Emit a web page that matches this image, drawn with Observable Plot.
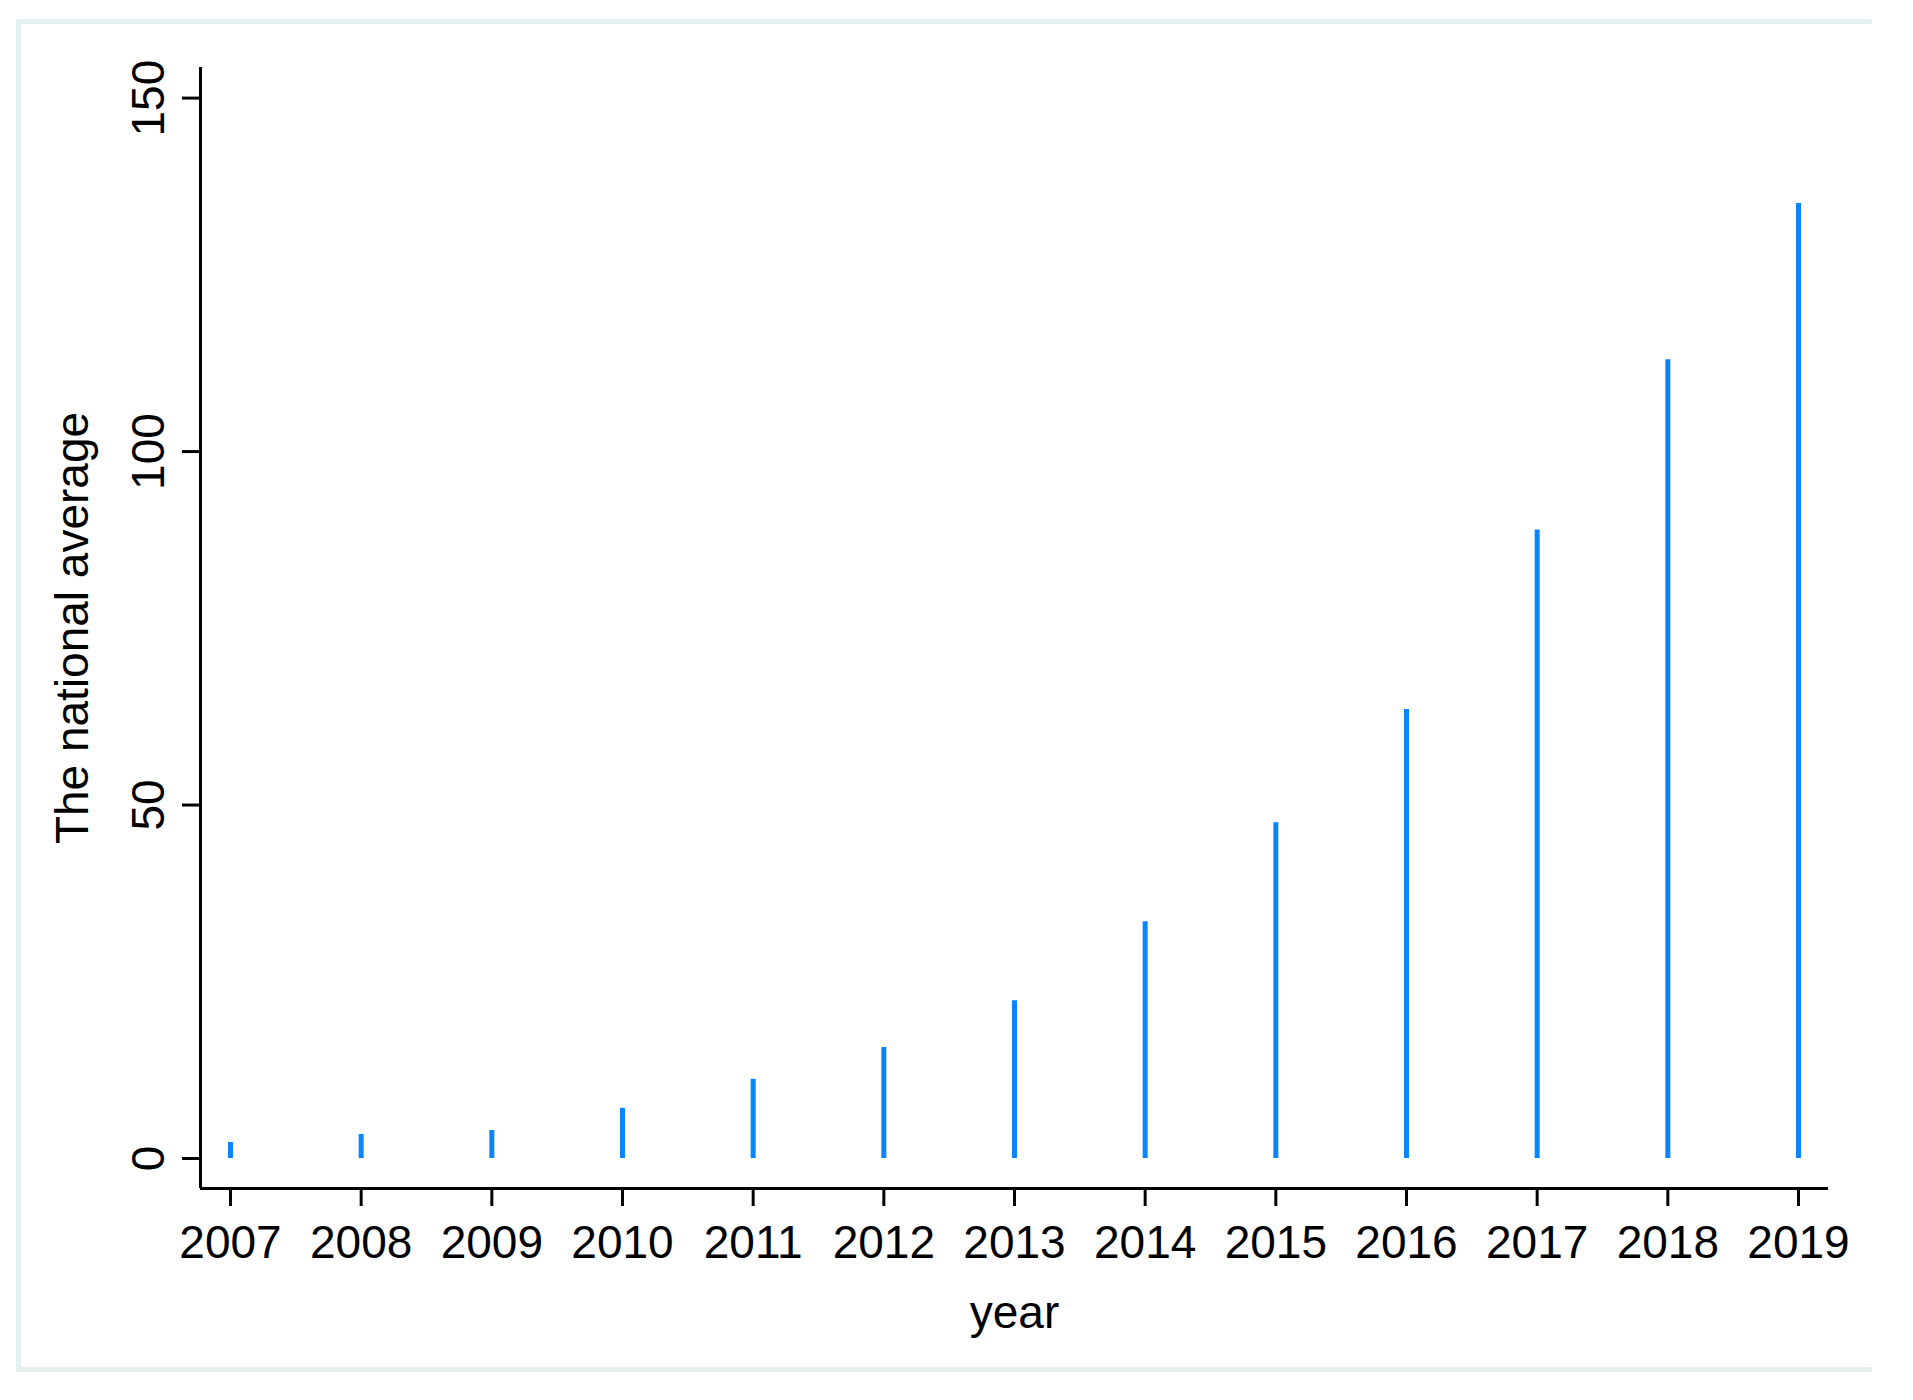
<!DOCTYPE html>
<html>
<head>
<meta charset="utf-8">
<script src="https://cdn.jsdelivr.net/npm/d3@7"></script>
<script src="https://cdn.jsdelivr.net/npm/@observablehq/plot@0.6"></script>
<style>
  html, body { margin: 0; padding: 0; background: #ffffff; }
  #wrap { position: relative; width: 1913px; height: 1400px; background: #ffffff; }
  #border {
    position: absolute; left: 16px; top: 19px; width: 1856px; height: 1353px;
    box-sizing: border-box;
    border-top: 5px solid #e4eff0; border-left: 5px solid #e4eff0; border-bottom: 5px solid #e4eff0;
    pointer-events: none;
  }
  #chart { position: absolute; left: 0; top: 0; }
</style>
</head>
<body>
<div id="wrap"><div id="border"></div><div id="chart"></div></div>
<script>
const years = [2007, 2008, 2009, 2010, 2011, 2012, 2013, 2014, 2015, 2016, 2017, 2018, 2019];
const values = [2.26, 3.4, 3.96, 7.1, 11.2, 15.7, 22.3, 33.5, 47.5, 63.5, 88.9, 113.0, 135.1];
const yTicks = [0, 50, 100, 150];
const xLabel = "year";
const yLabel = "The national average";

const data = years.map((year, i) => ({year, value: values[i]}));
const xDomain = [2006.7704, 2019.2296];
const yDomain = [-4.2437, 154.329];
const font = "'Liberation Sans', Arial, sans-serif";

const chart = Plot.plot({
  width: 1913,
  height: 1400,
  marginLeft: 200,
  marginRight: 85,
  marginTop: 67,
  marginBottom: 212,
  style: {fontFamily: font, fontSize: "46px", color: "#000", background: "transparent"},
  x: {type: "linear", domain: xDomain},
  y: {type: "linear", domain: yDomain},
  marks: [
    Plot.ruleX(data, {x: "year", y1: 0, y2: "value", stroke: "#0a84ff", strokeWidth: 5}),
    Plot.ruleY([yDomain[0]], {stroke: "#000", strokeWidth: 3}),
    Plot.ruleX([xDomain[0]], {stroke: "#000", strokeWidth: 3}),
    Plot.axisX({ticks: years, tickFormat: d => String(d), tickSize: 18, tickPadding: 19, strokeWidth: 3, fontSize: 46, label: null}),
    Plot.axisY({ticks: yTicks, tickFormat: d => String(d), tickSize: 18, tickPadding: 19, tickRotate: -90, strokeWidth: 3, fontSize: 46, label: null}),
    Plot.text([xLabel], {frameAnchor: "bottom", text: d => d, dy: 139, lineAnchor: "bottom", textAnchor: "middle", fontSize: 46, fill: "#000"}),
    Plot.text([yLabel], {frameAnchor: "left", text: d => d, rotate: -90, dx: -113, lineAnchor: "bottom", textAnchor: "middle", fontSize: 46, fill: "#000"})
  ]
});
document.getElementById("chart").appendChild(chart);
</script>
</body>
</html>
